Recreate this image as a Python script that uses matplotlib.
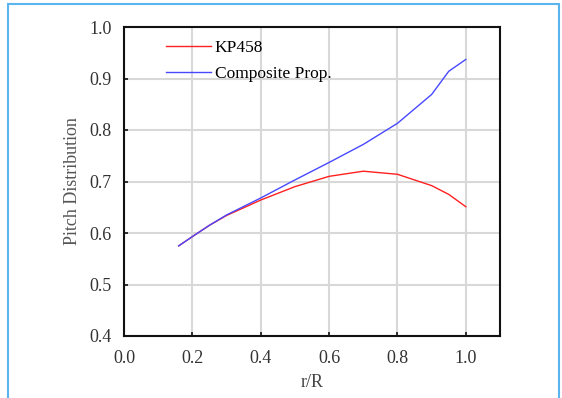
import matplotlib.pyplot as plt
from matplotlib.patches import Rectangle

r_R = [0.16, 0.2, 0.25, 0.3, 0.4, 0.5, 0.6, 0.7, 0.8, 0.9, 0.95, 1.0]
kp458 = [0.575, 0.593, 0.615, 0.634, 0.664, 0.690, 0.710, 0.720, 0.714, 0.692, 0.675, 0.651]
composite = [0.575, 0.593, 0.615, 0.635, 0.668, 0.703, 0.737, 0.772, 0.813, 0.869, 0.914, 0.937]

xticks = [0.0, 0.2, 0.4, 0.6, 0.8, 1.0]
yticks = [0.4, 0.5, 0.6, 0.7, 0.8, 0.9, 1.0]

plt.rcParams['font.family'] = 'Liberation Serif'
plt.rcParams['font.size'] = 12

fig = plt.figure(figsize=(5.62, 3.98), dpi=100)
# light blue frame around the whole figure
fig.patches.append(Rectangle((8/562, -0.01), 551/562, 1.0 - 4/398 + 0.01,
                             transform=fig.transFigure, fill=False,
                             edgecolor='#5ab4ee', linewidth=1.5))

ax = fig.add_axes([124/562, 62/398, 376/562, 309/398])
ax.plot(r_R, kp458, color='#ff2020', lw=1.0, label='KP458')
ax.plot(r_R, composite, color='#4848ff', lw=1.0, label='Composite Prop.')

ax.set_xlim(0, 1.1)
ax.set_ylim(0.4, 1.0)
ax.set_xticks(xticks)
ax.set_xticklabels([f'{v:.1f}' for v in xticks])
ax.set_yticks(yticks)
ax.set_yticklabels([f'{v:.1f}' for v in yticks])
ax.tick_params(direction='in', length=3, width=1.2, color='#111111',
               labelsize=13, labelcolor='#333333')
ax.tick_params(axis='x', pad=10)
ax.tick_params(axis='y', pad=9)
ax.grid(True, color='#d8d8d8', lw=1.5)
for s in ax.spines.values():
    s.set_linewidth(1.5)
    s.set_color('#111111')

ax.set_xlabel('r/R', color='#444444', fontsize=13, labelpad=5)
ax.set_ylabel('Pitch Distribution', color='#555555', fontsize=13, labelpad=6)

ax.legend(loc='upper left', bbox_to_anchor=(0.07, 1.01), frameon=False,
          handlelength=2.6, handletextpad=0.2, labelspacing=0.6, fontsize=12.5)

fig.savefig('out.png', dpi=100)
